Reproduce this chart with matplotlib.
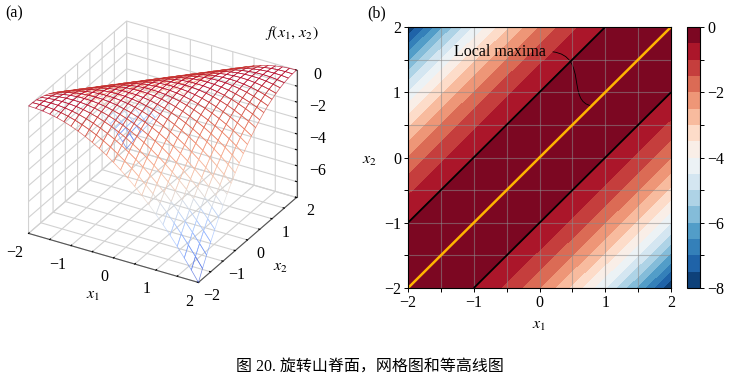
import numpy as np
import matplotlib
matplotlib.use("Agg")
import matplotlib.pyplot as plt
from matplotlib.path import Path
from matplotlib.patches import PathPatch

plt.rcParams['font.family'] = ['Liberation Serif', 'Noto Sans CJK SC']
plt.rcParams['mathtext.fontset'] = 'stix'
plt.rcParams['axes.unicode_minus'] = True
plt.rcParams['font.size'] = 11.5

# grid values along the x1 and x2 axes
grid_x = [-2 + k / 6 for k in range(25)]

ridge_heights = [0, -0.014, -0.056, -0.125, -0.222, -0.347, -0.5, -0.681, -0.889,
                 -1.125, -1.389, -1.681, -2.0, -2.347, -2.722, -3.125, -3.556,
                 -4.014, -4.5, -5.014, -5.556, -6.125, -6.722, -7.347, -8.0]

xy_ticks = [-2, -1.5, -1, -0.5, 0, 0.5, 1, 1.5, 2]
xy_labels = ['\u22122', '', '\u22121', '', '0', '', '1', '', '2']
z_ticks = [-8, -7, -6, -5, -4, -3, -2, -1, 0]
z_labels = ['', '', '\u22126', '', '\u22124', '', '\u22122', '', '0']
cbar_labels = ['\u22128', '', '\u22126', '', '\u22124', '', '\u22122', '', '0']
contour_levels = [-8, -7.5, -7, -6.5, -6, -5.5, -5, -4.5, -4, -3.5, -3, -2.5, -2, -1.5, -1, -0.5, 0]
ridge_line = [-2, 2]

xx, yy = np.meshgrid(grid_x, grid_x)
n = len(grid_x)
zz = np.array([[ridge_heights[abs(i - j)] for j in range(n)] for i in range(n)])

W, H = 729, 382
fig = plt.figure(figsize=(W / 100, H / 100), dpi=100)

# (a) mesh surface
ax3 = fig.add_axes([0.0073, 0.193, 0.42, 0.798], projection='3d', proj_type='ortho')
norm = plt.Normalize(-8, 0)
colors = plt.cm.coolwarm(norm(zz))
colors[..., 3] = 0.8
surf = ax3.plot_surface(xx, yy, zz, rcount=n, ccount=n, facecolors=colors, shade=False, linewidth=0.5)
surf.set_facecolor((0, 0, 0, 0))
ax3.set_xlim(-2, 2)
ax3.set_ylim(-2, 2)
ax3.set_zlim(-8, 0)
ax3.set_xticks(xy_ticks, xy_labels, ha='right')
ax3.set_yticks(xy_ticks, xy_labels, ha='center', va='center')
ax3.set_zticks(z_ticks, z_labels, ha='center')
ax3.tick_params(axis='x', pad=-2)
ax3.tick_params(axis='y', pad=1)
ax3.tick_params(axis='z', pad=1)
for axis in [ax3.xaxis, ax3.yaxis, ax3.zaxis]:
    axis.set_pane_color((1, 1, 1, 0))
    axis.pane.set_edgecolor('#d0d0d0')
    axis._axinfo['grid']['color'] = '#d2d2d2'
    axis._axinfo['grid']['linewidth'] = 0.8
    axis._axinfo['tick']['inward_factor'] = 0.0
    axis._axinfo['tick']['outward_factor'] = 0.08
    axis.line.set_color('#555555')
    axis.line.set_linewidth(0.8)

# (b) filled contours
ax = fig.add_axes([408 / W, 1 - 288 / H, 263 / W, 261 / H])
cf = ax.contourf(xx, yy, zz, levels=contour_levels, cmap='RdBu_r')
ax.contour(xx, yy, zz, levels=[-0.501], colors='k', linewidths=1.3, linestyles='solid')
ax.plot(ridge_line, ridge_line, color='#ffb400', lw=1.8, solid_capstyle='butt')
ax.set_xlim(-2, 2)
ax.set_ylim(-2, 2)
ax.set_xticks(xy_ticks, xy_labels)
ax.set_yticks(xy_ticks, xy_labels)
ax.grid(True, color='#8c8c8c', lw=0.8, alpha=0.55)
ax.tick_params(length=3, width=0.7, pad=2)
ax.add_patch(PathPatch(Path([(0.2, 1.62), (0.75, 1.55), (0.4, 0.85), (0.8, 0.79)],
                            [Path.MOVETO, Path.CURVE4, Path.CURVE4, Path.CURVE4]),
                       fc='none', ec='k', lw=0.6))
ax.text(-1.3, 1.61, 'Local maxima', va='center', ha='left')

cax = fig.add_axes([687 / W, 1 - 288 / H, 13 / W, 261 / H])
cbar = fig.colorbar(cf, cax=cax)
cbar.set_ticks(z_ticks, labels=cbar_labels)
cbar.ax.tick_params(length=3, width=0.7, pad=2)

fig.text(5 / W, 1 - 13 / H, '(a)', va='center', ha='left')
fig.text(367 / W, 1 - 13 / H, '(b)', va='center', ha='left')
fig.text(292 / W, 1 - 33 / H, r'$f(x_1,\, x_2)$', va='center', ha='center')
fig.text(93 / W, 1 - 295 / H, r'$x_1$', va='center', ha='center')
fig.text(280 / W, 1 - 267 / H, r'$x_2$', va='center', ha='center')
fig.text(369 / W, 1 - 160 / H, r'$x_2$', va='center', ha='center')
fig.text(539 / W, 1 - 325 / H, r'$x_1$', va='center', ha='center')
fig.text(370 / W, 1 - 367 / H, '图 20. 旋转山脊面，网格图和等高线图', va='center', ha='center')

fig.savefig('out.png', dpi=100)
